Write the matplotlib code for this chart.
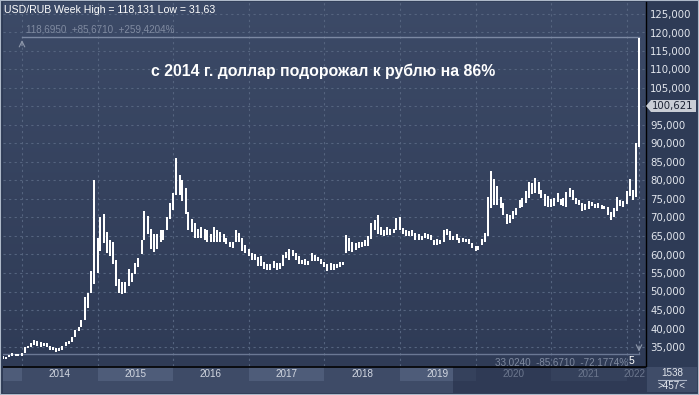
import matplotlib
matplotlib.use("Agg")
import matplotlib.pyplot as plt
import numpy as np
import pandas as pd
from matplotlib.colors import LinearSegmentedColormap

# semi-monthly high / low of USD/RUB (1st and 15th of each month)
start = "2013-10-01"
high = [
    32.5, 32.3, 32.9, 33.3, 33.2, 33.2,  # 2013 Q4
    33.4, 34.9, 35.4, 36.1, 36.9, 36.7, 36.3, 36.2, 36.0, 35.2, 35.1, 34.6,
    34.6, 35.3, 36.4, 36.6, 37.6, 39.5, 40.5, 42.3, 48.6, 49.5, 55.5, 80.0,  # 2014
    64.5, 70.0, 71.0, 66.0, 64.0, 63.5, 58.5, 53.5, 52.5, 52.5, 56.0, 55.0,
    57.8, 59.0, 64.0, 71.8, 70.5, 67.0, 65.5, 65.5, 66.5, 66.5, 70.0, 74.0,  # 2015
    76.5, 86.0, 81.5, 80.0, 78.0, 71.5, 69.5, 68.5, 67.0, 67.5, 67.0, 66.5,
    65.5, 67.5, 66.5, 66.0, 65.5, 64.5, 63.5, 63.5, 66.5, 65.8, 64.5, 62.5,  # 2016
    61.5, 60.5, 60.0, 59.2, 59.5, 58.0, 57.5, 57.3, 58.3, 57.8, 57.6, 59.8,
    60.7, 61.5, 61.2, 60.5, 59.5, 58.5, 58.8, 58.2, 60.3, 59.8, 59.4, 58.9,  # 2017
    58.0, 57.5, 57.6, 57.3, 57.4, 58.0, 58.0, 65.3, 64.5, 63.5, 63.2, 63.5,
    63.5, 63.8, 65.0, 68.5, 69.3, 70.7, 67.5, 66.5, 67.5, 67.0, 67.0, 69.8,  # 2018
    70.0, 67.2, 66.5, 66.3, 66.6, 65.7, 65.6, 65.0, 65.8, 65.5, 65.4, 63.8,
    64.3, 63.8, 66.5, 66.8, 66.4, 65.1, 65.5, 64.5, 64.4, 64.3, 64.3, 63.2,  # 2019
    62.3, 62.3, 64.3, 65.8, 75.5, 82.5, 80.5, 78.5, 75.5, 74.0, 71.0, 70.7,
    71.8, 72.5, 74.8, 75.2, 77.2, 79.5, 79.2, 80.8, 79.5, 77.5, 76.3, 75.8,  # 2020
    75.0, 75.2, 76.5, 75.0, 75.2, 76.8, 78.0, 77.5, 75.2, 74.6, 73.9, 73.7,
    74.5, 74.3, 73.7, 74.0, 73.5, 73.2, 72.8, 71.5, 72.5, 75.5, 74.8, 74.5,  # 2021
    77.2, 80.3, 77.5, 90.0, 118.4,  # 2022
]
low = [
    31.63, 31.7, 32.2, 32.6, 32.7, 32.6,
    32.7, 33.4, 34.6, 35.0, 35.6, 35.4, 35.1, 35.4, 34.9, 34.2, 34.3, 33.6,
    33.8, 34.3, 35.2, 35.8, 36.4, 37.8, 39.2, 40.5, 42.3, 45.5, 49.6, 52.0,
    55.0, 61.0, 63.0, 60.5, 59.5, 57.5, 51.5, 49.6, 49.2, 49.5, 51.6, 52.7,
    54.8, 56.5, 60.0, 64.0, 65.5, 61.5, 60.8, 61.5, 63.5, 64.0, 66.5, 69.5,
    72.0, 76.0, 76.0, 74.5, 71.0, 66.5, 66.0, 64.5, 64.5, 64.5, 64.0, 63.5,
    63.5, 63.5, 63.5, 63.5, 63.3, 62.8, 62.0, 61.8, 63.5, 63.5, 61.0, 60.5,
    59.5, 58.6, 58.5, 56.8, 57.0, 56.2, 55.8, 55.8, 56.4, 55.9, 56.2, 57.0,
    59.0, 58.5, 59.5, 58.5, 57.3, 57.5, 57.2, 57.2, 58.3, 58.3, 58.3, 57.5,
    56.5, 55.6, 55.8, 55.7, 56.3, 56.6, 57.2, 60.3, 61.0, 60.8, 61.3, 61.8,
    62.0, 62.3, 62.3, 64.2, 66.5, 65.5, 65.3, 65.0, 65.3, 65.3, 65.8, 66.6,
    66.5, 65.5, 65.0, 65.0, 64.9, 64.0, 64.0, 63.8, 64.5, 64.3, 63.9, 62.5,
    62.5, 62.8, 63.3, 65.2, 64.0, 63.8, 63.8, 63.2, 63.3, 63.3, 62.8, 61.8,
    61.0, 61.3, 62.6, 63.3, 65.0, 72.5, 73.5, 73.5, 72.5, 70.8, 68.3, 68.5,
    69.5, 70.8, 72.5, 72.8, 73.8, 75.2, 76.3, 76.5, 76.3, 75.3, 73.2, 72.8,
    72.8, 73.2, 74.2, 73.3, 73.0, 72.8, 75.5, 74.8, 73.7, 73.4, 71.8, 71.9,
    72.3, 73.2, 72.5, 72.6, 72.3, 72.2, 70.6, 69.3, 70.2, 71.8, 73.0, 72.8,
    73.7, 75.8, 74.8, 75.5, 89.0,
]
years = [2014, 2015, 2016, 2017, 2018, 2019, 2020, 2021, 2022]
yticks = list(range(35, 130, 5))
meas_hi = 118.695
meas_lo = 33.024
last_price = 100.621

dates = pd.date_range(start, periods=len(high), freq="SMS")
xs = dates.year + (dates.dayofyear - 1) / np.where(dates.is_leap_year, 366, 365)

W, H = 699, 395
fig = plt.figure(figsize=(W / 100, H / 100), dpi=100)
fig.patch.set_facecolor("#2e3b56")

def fx(x):
    return x / W

def fy(y):
    return 1 - y / H

small = dict(family="Liberation Sans", fontsize=7.6)
axis_font = dict(family="Liberation Sans", fontsize=7.1)

x_left = 2014 + (3 - 22) / 75.6
x_right = 2014 + (646 - 22) / 75.6
y_top = 35 + 345 / 3.7
y_bot = 35 - 19 / 3.7

ax = fig.add_axes([fx(3), fy(366), fx(643), 364 / H])
ax.set_xlim(x_left, x_right)
ax.set_ylim(y_bot, y_top)

# background gradient
grad = np.linspace(0, 1, 256).reshape(-1, 1)
cmap = LinearSegmentedColormap.from_list("bg", ["#2f3b56", "#3c4a67"])
ax.imshow(grad, aspect="auto", cmap=cmap, origin="lower",
          extent=[x_left, x_right, y_bot, y_top], zorder=0)

for t in yticks:
    ax.axhline(t, color="#55647f", lw=0.8, ls=(0, (2, 3)), zorder=1)
for yr in years:
    ax.axvline(yr, color="#55647f", lw=0.8, ls=(0, (2, 3)), zorder=1)

# measurement tool lines
ax.plot([years[0], xs[-1]], [meas_hi, meas_hi], color="#7c89a3", lw=1, zorder=2)
ax.plot([x_left, xs[-1]], [meas_lo, meas_lo], color="#6b7894", lw=1, zorder=2)
ax.plot([xs[-1], xs[-1]], [meas_lo, meas_hi], color="#6b7894", lw=0.8,
        ls=(0, (2, 3)), zorder=2)
ax.annotate("", xy=(years[0], meas_hi), xytext=(years[0], meas_hi - 3),
            arrowprops=dict(arrowstyle="->", color="#8d97aa", lw=0.8))
ax.annotate("", xy=(xs[-1], meas_lo), xytext=(xs[-1], meas_lo + 3),
            arrowprops=dict(arrowstyle="->", color="#8d97aa", lw=0.8))

ax.vlines(xs, low, high, color="white", lw=1.15, antialiased=False, zorder=3)

ax.yaxis.tick_right()
ax.set_yticks(yticks)
# the 100 label sits under the last-price box
ax.set_yticklabels(["" if t == 100 else f"{t:.3f}".replace(".", ",") for t in yticks])
ax.tick_params(axis="y", length=0, pad=3, labelsize=7.3, labelcolor="#e3e7ee")
ax.set_xticks([])
for s in ["top", "left", "bottom"]:
    ax.spines[s].set_visible(False)
ax.spines["right"].set_color("black")
ax.spines["right"].set_linewidth(1)

fig.text(fx(323), fy(71), "с 2014 г. доллар подорожал к рублю на 86%",
         family="Liberation Sans", weight="bold", fontsize=11.4, color="white",
         ha="center", va="center")
fig.text(fx(4), fy(10), "USD/RUB Week High = 118,131 Low = 31,63",
         color="white", ha="left", va="center", **small)
fig.text(fx(26), fy(30), "118,6950  +85,6710  +259,4204%",
         color="#7f8aa0", ha="left", va="center", **axis_font)
ax.text(xs[-1] - 0.14, meas_lo - 2.1, "33,0240  -85,6710  -72,1774%",
        color="#7f8aa0", ha="right", va="center", clip_on=True, **axis_font)
fig.text(fx(629), fy(361), "5", color="white", ha="left", va="center",
         family="Liberation Sans", fontsize=7.5)

# current price box
fig.patches.append(plt.Polygon(
    [[fx(646), fy(106)], [fx(651), fy(100)], [fx(696), fy(100)],
     [fx(696), fy(112)], [fx(651), fy(112)]],
    closed=True, transform=fig.transFigure, facecolor="#c9cdd5",
    edgecolor="none", figure=fig))
fig.text(fx(652), fy(106), f"{last_price:.3f}".replace(".", ","),
         fontsize=7.3, color="#1b2233", ha="left", va="center")

# x axis strip
axx = fig.add_axes([fx(3), fy(393), fx(643), 27 / H])
axx.set_xlim(x_left, x_right)
axx.set_ylim(0, 27)
axx.axis("off")
axx.axhspan(0, 27, color="#3e4b67")
bands = [x_left] + years + [x_right]
for i in range(len(bands) - 1):
    c = "#4e5c79" if i % 2 == 0 else "#3e4b67"
    axx.fill_between([bands[i], bands[i + 1]], 12, 26, color=c, lw=0)
x_cut = 2014 + (453 - 22) / 75.6
axx.fill_between([x_cut, x_right], 0, 26, color="#25304a", alpha=0.6, lw=0)
axx.plot([x_left, x_right], [26.5, 26.5], color="black", lw=1.2)
for yr in years[:-1]:
    col = "#d3d8e2" if yr < 2020 else "#6c778e"
    axx.text(yr + 0.5, 19, str(yr), color=col, ha="center", va="center", **axis_font)
axx.text(x_right, 19, "2022", color="#6c778e", ha="right", va="center", **axis_font)

# bottom right box
fig.patches.append(plt.Rectangle((fx(647), fy(392)), fx(50), 25 / H,
                                 transform=fig.transFigure, facecolor="#3f4c68",
                                 edgecolor="none", figure=fig))
fig.text(fx(672), fy(373), "1538", color="#e3e7ee", ha="center", va="center", **axis_font)
fig.lines.append(plt.Line2D([fx(658), fx(686)], [fy(380), fy(380)],
                            transform=fig.transFigure, color="#aab3c4", lw=0.8))
fig.text(fx(672), fy(386), ">457<", color="#e3e7ee", ha="center", va="center", **axis_font)

# outer light frame
fig.patches.append(plt.Rectangle((0, 0), 1, 1, transform=fig.transFigure,
                                 facecolor="none", edgecolor="#aeb9c9", lw=1.5,
                                 figure=fig))

fig.savefig("out.png", dpi=100, facecolor=fig.get_facecolor())
